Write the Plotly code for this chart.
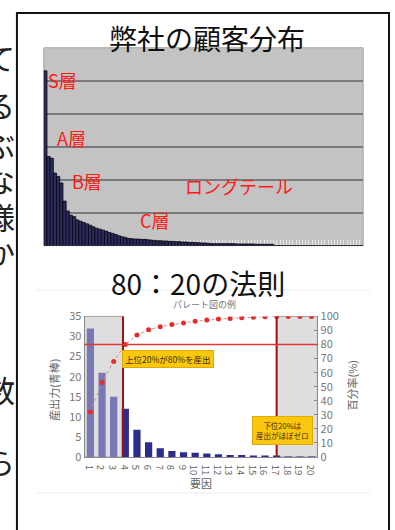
import plotly.graph_objects as go

W, H = 395, 530
JP = "Noto Sans CJK JP"

# --- 弊社の顧客分布 (customers ranked by sales) ---
customer_rank = list(range(1, 101))
customer_sales = [
    5.30, 2.70, 2.65, 2.20, 2.10, 1.90, 1.35, 1.05, 0.92, 0.88,
    0.78, 0.74, 0.70, 0.66, 0.62, 0.57, 0.53, 0.50, 0.47, 0.44,
    0.40, 0.37, 0.34, 0.30, 0.27, 0.25, 0.22, 0.21, 0.20, 0.20,
    0.19, 0.19, 0.18, 0.17, 0.16, 0.15, 0.15, 0.14, 0.14, 0.13,
    0.13, 0.12, 0.12, 0.11, 0.11, 0.10, 0.10, 0.09, 0.09, 0.08,
    0.08, 0.07, 0.06, 0.06, 0.06, 0.06, 0.06, 0.06, 0.06, 0.06,
    0.05, 0.05, 0.05, 0.05, 0.05, 0.05, 0.04, 0.04, 0.04, 0.04,
    0.04, 0.04, 0.00, 0.00, 0.00, 0.00, 0.00, 0.00, 0.00, 0.00,
    0.00, 0.00, 0.00, 0.00, 0.00, 0.00, 0.00, 0.00, 0.00, 0.00,
    0.00, 0.00, 0.00, 0.00, 0.00, 0.00, 0.00, 0.00, 0.00, 0.00,
]
tier_labels = ["S層", "A層", "B層", "C層", "ロングテール"]

# --- パレート図の例 ---
factors = list(range(1, 21))
output_power = [32, 21, 15, 12, 6.8, 3.7, 2.2, 1.5, 1.2, 1.05,
                0.9, 0.7, 0.5, 0.5, 0.35, 0.35, 0.2, 0.1, 0.05, 0.05]
cumulative_pct = [32, 53, 68, 80, 86.8, 90.5, 92.7, 94.2, 95.4, 96.5,
                  97.4, 98.1, 98.6, 99.1, 99.4, 99.8, 100, 100, 100, 100]
top_cut = 3.8      # boundary of the top 20%
bottom_cut = 17    # boundary of the bottom 20%
target_pct = 80

# side text of the page, running vertically down the left margin
margin_chars = ["て", "る", "ぶ", "な", "様", "か", "数", "ら"]
margin_rows = [50, 98, 139, 175, 213, 250, 392, 466]


def fx(p):
    return p / W


def fy(p):
    return 1 - p / H


fig = go.Figure()

fig.add_trace(go.Bar(
    x=customer_rank, y=customer_sales, width=1.0,
    marker=dict(color="#2c2c5e", line=dict(color="#06060f", width=0.8)),
    xaxis="x", yaxis="y", showlegend=False, hoverinfo="skip",
))

bar_colors = ["#7878b4" if f < top_cut else "#2c2c8c" for f in factors]
fig.add_trace(go.Bar(
    x=factors, y=output_power, width=0.62,
    marker=dict(color=bar_colors, line=dict(width=0)),
    xaxis="x2", yaxis="y2", showlegend=False, hoverinfo="skip",
))
fig.add_trace(go.Scatter(
    x=factors, y=cumulative_pct, mode="lines+markers",
    line=dict(color="#d88a8a", width=1, dash="dot"),
    marker=dict(color="#e82a2a", size=5),
    xaxis="x2", yaxis="y3", showlegend=False, hoverinfo="skip",
))

shapes = [
    # grey plotting area of the customer chart
    dict(type="rect", xref="x domain", yref="y domain", x0=0, x1=1, y0=0, y1=1,
         fillcolor="#c3c3c3", line=dict(color="#a4a4a4", width=1), layer="below"),
    # shaded top / bottom 20% bands
    dict(type="rect", xref="x2", yref="y2 domain", x0=0.5, x1=top_cut, y0=0, y1=1,
         fillcolor="#dedede", line=dict(color="#a0a0a0", width=1), layer="below"),
    dict(type="rect", xref="x2", yref="y2 domain", x0=bottom_cut, x1=20.5, y0=0, y1=1,
         fillcolor="#dedede", line=dict(color="#a0a0a0", width=1), layer="below"),
    dict(type="line", xref="x2", yref="y2 domain", x0=top_cut, x1=top_cut, y0=0, y1=1,
         line=dict(color="#9a1414", width=2)),
    dict(type="line", xref="x2", yref="y2 domain", x0=bottom_cut, x1=bottom_cut, y0=0, y1=1,
         line=dict(color="#9a1414", width=2)),
    dict(type="line", xref="x2 domain", yref="y3", x0=0, x1=1, y0=target_pct, y1=target_pct,
         line=dict(color="#e23636", width=1.5)),
    # faint edges of the pasted Pareto figure
    dict(type="line", xref="paper", yref="paper", x0=fx(35), x1=fx(370), y0=fy(290), y1=fy(290),
         line=dict(color="#ececec", width=1)),
    dict(type="line", xref="paper", yref="paper", x0=fx(35), x1=fx(370), y0=fy(499), y1=fy(499),
         line=dict(color="#ececec", width=1)),
    # page frame
    dict(type="rect", xref="paper", yref="paper", x0=fx(15), x1=fx(389), y0=fy(545), y1=fy(4),
         line=dict(color="#111111", width=2), fillcolor="rgba(0,0,0,0)", layer="above"),
]

ann = []
ann.append(dict(text="弊社の顧客分布", x=fx(206), y=fy(30), font=dict(family=JP, size=28, color="#111")))
ann.append(dict(text="80：20の法則", x=fx(197), y=fy(283), font=dict(family=JP, size=28, color="#111")))

tier_pos = [(44, 73), (53, 133), (68, 177), (137, 218), (182, 182)]
for label, (px_, py_) in zip(tier_labels, tier_pos):
    ann.append(dict(text=label, x=fx(px_), y=fy(py_), xanchor="left",
                    font=dict(family=JP, size=18, color="#ff1a1a")))

ann.append(dict(text="パレート図の例", x=fx(204), y=fy(305), font=dict(family=JP, size=9, color="#777")))
ann.append(dict(text="産出力(青棒)", x=fx(52), y=fy(393), textangle=-90,
                font=dict(family=JP, size=11, color="#666")))
ann.append(dict(text="百分率(%)", x=fx(352), y=fy(388), textangle=-90,
                font=dict(family=JP, size=11, color="#666")))
ann.append(dict(text="要因", x=fx(200), y=fy(489), font=dict(family=JP, size=11, color="#666")))
ann.append(dict(text="上位20%が80%を産出", x=fx(167), y=fy(361),
                font=dict(family=JP, size=8.5, color="#3a2a00"),
                bgcolor="#f9c80e", bordercolor="#e0aa00", borderwidth=1, borderpad=2))
ann.append(dict(text="下位20%は<br>産出がほぼゼロ", x=fx(282), y=fy(435),
                font=dict(family=JP, size=7.5, color="#3a2a00"),
                bgcolor="#f9c80e", bordercolor="#e0aa00", borderwidth=1, borderpad=3))

for ch, row in zip(margin_chars, margin_rows):
    ann.append(dict(text=ch, x=fx(-2), y=fy(row),
                    font=dict(family=JP, size=30, color="#222")))

for a in ann:
    a.setdefault("xref", "paper")
    a.setdefault("yref", "paper")
    a.setdefault("xanchor", "center")
    a.setdefault("yanchor", "middle")
    a.setdefault("showarrow", False)

fig.update_layout(
    width=W, height=H,
    margin=dict(l=0, r=0, t=0, b=0),
    paper_bgcolor="white", plot_bgcolor="rgba(0,0,0,0)",
    shapes=shapes, annotations=ann,
    font=dict(family=JP),
    xaxis=dict(domain=[fx(42), fx(363)], range=[0.5, 100.5], showgrid=False, zeroline=False,
               tick0=0.5, dtick=1, ticks="inside", ticklen=6, tickcolor="#e6e6e6", tickwidth=1,
               showticklabels=False, layer="below traces", fixedrange=True),
    yaxis=dict(domain=[fy(244), fy(40)], range=[0, 6], dtick=1, showgrid=True,
               gridcolor="#7a7a7a", gridwidth=1.5, zeroline=False, showticklabels=False,
               fixedrange=True),
    xaxis2=dict(domain=[fx(83), fx(317)], range=[0.5, 20.5], tickvals=factors,
                showgrid=False, zeroline=False, showline=True, linecolor="#8a8a8a",
                tickfont=dict(size=9.5, color="#666"), anchor="y2", fixedrange=True),
    yaxis2=dict(domain=[fy(462), fy(317)], range=[0, 35], dtick=5, showgrid=False,
                zeroline=False, showline=True, linecolor="#8a8a8a",
                tickfont=dict(size=11, color="#777"), anchor="x2", fixedrange=True),
    yaxis3=dict(range=[0, 100], dtick=10, overlaying="y2", side="right", anchor="x2",
                showgrid=False, zeroline=False, showline=True, linecolor="#8a8a8a",
                ticks="inside", ticklen=3, tickcolor="#8a8a8a",
                tickfont=dict(size=11, color="#777"), fixedrange=True),
)

fig.write_html("out.html")
